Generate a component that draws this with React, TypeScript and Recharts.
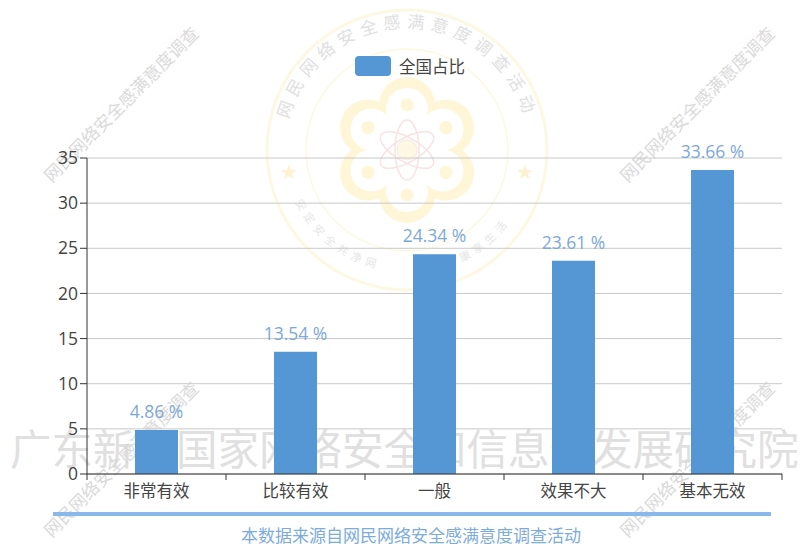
import React from "react";
import { BarChart, Bar, XAxis, YAxis, CartesianGrid, LabelList, Legend } from "recharts";

const categories = ["非常有效", "比较有效", "一般", "效果不大", "基本无效"];
const shares = [4.86, 13.54, 24.34, 23.61, 33.66];
const yTicks = [0, 5, 10, 15, 20, 25, 30, 35];
const seriesName = "全国占比";
const footnote = "本数据来源自网民网络安全感满意度调查活动";
const orgMark = "广东新兴国家网络安全和信息化发展研究院";
const diagonalMark = "网民网络安全感满意度调查";
const sealTop = "网民网络安全感满意度调查活动";
const sealBottomLeft = "安定安全共净网";
const sealBottomRight = "健康享生活";

const data = categories.map((name, i) => ({ name, value: shares[i] }));

const W = 802;
const H = 544;
const PLOT_LEFT = 87;
const PLOT_RIGHT = 782;
const SLOT = (PLOT_RIGHT - PLOT_LEFT) / categories.length;
const FONT = '"Open Sans","Noto Sans CJK SC",sans-serif';
const CJK = '"Noto Sans CJK SC",sans-serif';

const XTick = (props: any) => {
  const { x, y, payload, index } = props;
  return (
    <g>
      <line x1={x - SLOT / 2} x2={x - SLOT / 2} y1={y - 8} y2={y - 2} stroke="#333" />
      {index === categories.length - 1 && (
        <line x1={x + SLOT / 2} x2={x + SLOT / 2} y1={y - 8} y2={y - 2} stroke="#333" />
      )}
      <text x={x} y={y + 15} textAnchor="middle" fontSize={16.5} fill="#444" fontFamily={CJK}>
        {payload.value}
      </text>
    </g>
  );
};

const ValueLabel = (props: any) => {
  const { x, y, width, value } = props;
  return (
    <text x={x + width / 2} y={y - 12} textAnchor="middle" fontSize={17.5} fill="#7ea8d6" fontFamily={FONT}>
      {`${value} %`}
    </text>
  );
};

const LegendBox = () => (
  <div style={{ display: "flex", alignItems: "center", height: 20, fontFamily: CJK, fontSize: 16.5, color: "#444", whiteSpace: "nowrap" }}>
    <span style={{ width: 36, height: 20, background: "#5596d4", borderRadius: 4, marginRight: 8, flex: "none" }} />
    {seriesName}
  </div>
);

const Seal = () => {
  const cx = 407;
  const cy = 150;
  const angles = [0, 60, 120, 180, 240, 300];
  return (
    <svg width={W} height={H} style={{ position: "absolute", left: 0, top: 0 }}>
      <defs>
        <path id="sealArcTop" d={`M ${cx - 120} ${cy + 22} A 122 122 0 1 1 ${cx + 120} ${cy + 22}`} />
        <path id="sealArcLow" d={`M ${cx - 112} ${cy + 52} A 124 124 0 0 0 ${cx - 8} ${cy + 122}`} />
        <path id="sealArcLow2" d={`M ${cx + 40} ${cy + 118} A 124 124 0 0 0 ${cx + 116} ${cy + 48}`} />
      </defs>
      <circle cx={cx} cy={cy} r={140} fill="none" stroke="#fdf8e2" strokeWidth={3} />
      <circle cx={cx} cy={cy} r={101} fill="none" stroke="#fdf8e2" strokeWidth={1.5} />
      <text fontSize={17} fill="#e0e0e0" fontFamily={CJK} letterSpacing={6}>
        <textPath href="#sealArcTop" startOffset="50%" textAnchor="middle">{sealTop}</textPath>
      </text>
      <text fontSize={11} fill="#e6e6e6" fontFamily={CJK} letterSpacing={5}>
        <textPath href="#sealArcLow">{sealBottomLeft}</textPath>
      </text>
      <text fontSize={11} fill="#e6e6e6" fontFamily={CJK} letterSpacing={5}>
        <textPath href="#sealArcLow2">{sealBottomRight}</textPath>
      </text>
      <text x={cx - 118} y={cy + 29} fontSize={20} fill="#fdf1d0" textAnchor="middle">★</text>
      <text x={cx + 118} y={cy + 29} fontSize={20} fill="#fdf1d0" textAnchor="middle">★</text>
      <g transform={`translate(${cx} ${cy})`}>
        {angles.map((a) => (
          <circle key={a} cx={0} cy={-45} r={28} fill="#fef6d6" transform={`rotate(${a})`} />
        ))}
        {angles.map((a) => (
          <circle key={a} cx={0} cy={-41} r={21} fill="#fff" transform={`rotate(${a})`} />
        ))}
        <circle r={38} fill="#fff" />
        {angles.map((a) => (
          <circle key={a} cx={0} cy={-45} r={6.5} fill="#fef6d6" transform={`rotate(${a})`} />
        ))}
        {[30, 90, 150].map((a) => (
          <ellipse key={a} rx={30} ry={12} fill="none" stroke="#f8e2e2" strokeWidth={1.5} transform={`rotate(${a})`} />
        ))}
        <circle r={10} fill="#fdf8e2" stroke="#f8e8e2" />
      </g>
    </svg>
  );
};

const diagonalCentres = [
  [121, 104],
  [697, 104],
  [121, 459],
  [697, 459],
];

const Watermarks = () => (
  <>
    <div
      style={{
        position: "absolute",
        left: 0,
        top: 421,
        width: W,
        overflow: "hidden",
        fontFamily: CJK,
        fontSize: 41.5,
        lineHeight: "52px",
        color: "#e0e0e0",
        whiteSpace: "nowrap",
        paddingLeft: 10,
        boxSizing: "border-box",
      }}
    >
      {orgMark}
    </div>
    {diagonalCentres.map(([x, y]) => (
      <div
        key={`${x}-${y}`}
        style={{
          position: "absolute",
          left: x - 120,
          top: y - 12,
          width: 240,
          height: 24,
          lineHeight: "24px",
          textAlign: "center",
          fontFamily: CJK,
          fontSize: 17.5,
          color: "#dadada",
          whiteSpace: "nowrap",
          transform: "rotate(-45deg)",
        }}
      >
        {diagonalMark}
      </div>
    ))}
  </>
);

export default function App() {
  return (
    <div style={{ position: "absolute", left: 0, top: 0, width: W, height: H, overflow: "hidden", background: "#fff" }}>
      <Seal />
      <Watermarks />
      <div style={{ position: "absolute", left: 0, top: 0 }}>
        <BarChart
          width={W}
          height={H}
          data={data}
          margin={{ top: 138, right: W - PLOT_RIGHT, bottom: 40, left: 0 }}
        >
          <CartesianGrid vertical={false} stroke="#c8c8c8" strokeWidth={1} />
          <Legend
            verticalAlign="top"
            align="left"
            content={<LegendBox />}
            wrapperStyle={{ left: 355, top: 56, width: 130 }}
          />
          <XAxis
            dataKey="name"
            height={30}
            interval={0}
            axisLine={{ stroke: "#333" }}
            tickLine={false}
            tick={<XTick />}
          />
          <YAxis
            width={PLOT_LEFT}
            domain={[0, 35]}
            ticks={yTicks}
            interval={0}
            axisLine={{ stroke: "#333" }}
            tickLine={{ stroke: "#333" }}
            tickSize={7}
            tickMargin={2}
            tick={{ fontSize: 17.5, fill: "#444", fontFamily: FONT }}
          />
          <Bar dataKey="value" name={seriesName} fill="#5596d4" barSize={43} isAnimationActive={false}>
            <LabelList dataKey="value" content={<ValueLabel />} />
          </Bar>
        </BarChart>
      </div>
      <div style={{ position: "absolute", left: 53, top: 512, width: 718, height: 4, background: "#8ab8ea" }} />
      <div
        style={{
          position: "absolute",
          left: 0,
          width: 822,
          top: 526,
          textAlign: "center",
          fontFamily: CJK,
          fontSize: 17,
          lineHeight: "17px",
          color: "#7cabdc",
          whiteSpace: "nowrap",
        }}
      >
        {footnote}
      </div>
    </div>
  );
}
